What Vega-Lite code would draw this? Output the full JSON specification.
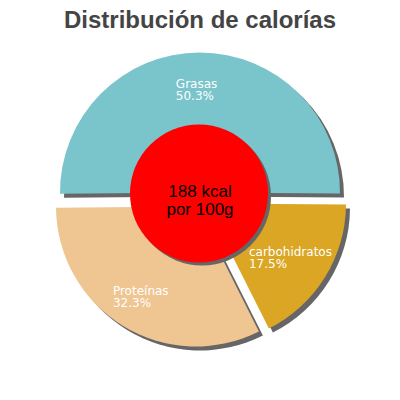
{
  "$schema": "https://vega.github.io/schema/vega-lite/v6.json",
  "width": 400,
  "height": 400,
  "autosize": {"type": "fit", "contains": "padding"},
  "padding": {"top": 9, "bottom": 44, "left": 0, "right": 0},
  "background": "white",
  "config": {"view": {"stroke": null}},
  "title": {
    "text": "Distribución de calorías",
    "font": "Liberation Sans",
    "fontSize": 24,
    "fontWeight": "bold",
    "color": "#444444",
    "anchor": "middle",
    "offset": 4
  },
  "data": {
    "values": [
      {"name": "Grasas", "pct": 50.3, "order": 1, "label": ["Grasas", "50.3%"]},
      {"name": "carbohidratos", "pct": 17.5, "order": 2, "label": ["carbohidratos", "17.5%"]},
      {"name": "Proteínas", "pct": 32.3, "order": 3, "label": ["Proteínas", "32.3%"]}
    ]
  },
  "encoding": {
    "theta": {"field": "pct", "type": "quantitative", "stack": true, "scale": {"range": [-1.5802, 4.7030]}},
    "order": {"field": "order", "type": "quantitative"}
  },
  "layer": [
    {
      "mark": {"type": "arc", "outerRadius": 140, "fill": "#666666", "xOffset": 4, "yOffset": 0},
      "encoding": {"opacity": {"condition": {"test": "datum.name === 'Grasas'", "value": 1}, "value": 0}}
    },
    {
      "mark": {"type": "arc", "outerRadius": 140, "fill": "#666666", "xOffset": 10, "yOffset": 11},
      "encoding": {"opacity": {"condition": {"test": "datum.name === 'carbohidratos'", "value": 1}, "value": 0}}
    },
    {
      "mark": {"type": "arc", "outerRadius": 140, "fill": "#666666", "xOffset": 0, "yOffset": 14},
      "encoding": {"opacity": {"condition": {"test": "datum.name === 'Proteínas'", "value": 1}, "value": 0}}
    },
    {
      "mark": {"type": "arc", "outerRadius": 140, "fill": "#7ac4cc", "xOffset": 0, "yOffset": -4},
      "encoding": {"opacity": {"condition": {"test": "datum.name === 'Grasas'", "value": 1}, "value": 0}}
    },
    {
      "mark": {"type": "arc", "outerRadius": 140, "fill": "#dba623", "xOffset": 6, "yOffset": 7},
      "encoding": {"opacity": {"condition": {"test": "datum.name === 'carbohidratos'", "value": 1}, "value": 0}}
    },
    {
      "mark": {"type": "arc", "outerRadius": 140, "fill": "#efc591", "xOffset": -4, "yOffset": 10},
      "encoding": {"opacity": {"condition": {"test": "datum.name === 'Proteínas'", "value": 1}, "value": 0}}
    },
    {
      "mark": {"type": "text", "radius": 100, "align": "left", "baseline": "top", "font": "DejaVu Sans", "fontSize": 12, "lineHeight": 12, "fill": "white", "dx": -24, "dy": -18},
      "encoding": {
        "text": {"field": "label"},
        "opacity": {"condition": {"test": "datum.name === 'Grasas'", "value": 1}, "value": 0}
      }
    },
    {
      "mark": {"type": "text", "radius": 100, "align": "left", "baseline": "top", "font": "DejaVu Sans", "fontSize": 12, "lineHeight": 12, "fill": "white", "dx": -36, "dy": -2},
      "encoding": {
        "text": {"field": "label"},
        "opacity": {"condition": {"test": "datum.name === 'carbohidratos'", "value": 1}, "value": 0}
      }
    },
    {
      "mark": {"type": "text", "radius": 100, "align": "left", "baseline": "top", "font": "DejaVu Sans", "fontSize": 12, "lineHeight": 12, "fill": "white", "dx": -35, "dy": 4},
      "encoding": {
        "text": {"field": "label"},
        "opacity": {"condition": {"test": "datum.name === 'Proteínas'", "value": 1}, "value": 0}
      }
    },
    {
      "data": {"values": [{"kcal": 188, "label": ["188 kcal", "por 100g"]}]},
      "mark": {"type": "circle", "size": 19044, "fill": "#666666", "opacity": 1, "xOffset": 2, "yOffset": 0},
      "encoding": {"theta": null, "order": null}
    },
    {
      "data": {"values": [{"kcal": 188, "label": ["188 kcal", "por 100g"]}]},
      "mark": {"type": "circle", "size": 19044, "fill": "#ff0000", "opacity": 1, "xOffset": -1, "yOffset": -3},
      "encoding": {"theta": null, "order": null}
    },
    {
      "data": {"values": [{"kcal": 188, "label": ["188 kcal", "por 100g"]}]},
      "mark": {"type": "text", "align": "center", "baseline": "middle", "font": "Liberation Sans", "fontSize": 17, "lineHeight": 18, "fill": "black", "yOffset": -5},
      "encoding": {"theta": null, "order": null, "text": {"field": "label"}}
    }
  ]
}
